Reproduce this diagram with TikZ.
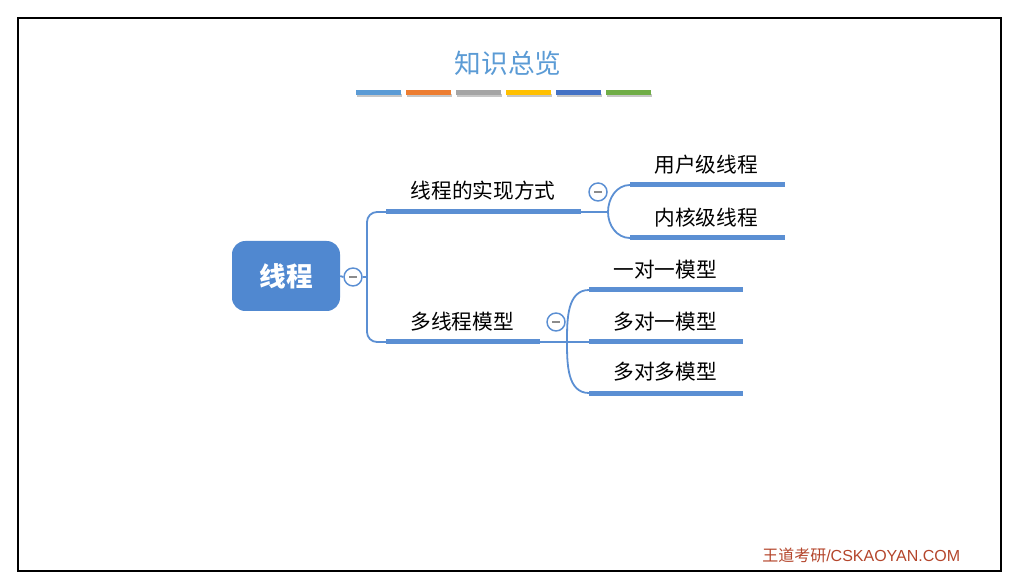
\documentclass[tikz,border=0pt]{standalone}
\usepackage{fontspec}
\setmainfont{Liberation Sans}
\newfontfamily\cjk{Noto Sans CJK SC}
\definecolor{mapblue}{HTML}{5B8FD3}
\definecolor{rootblue}{HTML}{5088D0}
\definecolor{titleblue}{HTML}{5B9BD5}
\definecolor{markred}{HTML}{B4452B}
\definecolor{barA}{HTML}{5B9BD5}
\definecolor{barB}{HTML}{ED7D31}
\definecolor{barC}{HTML}{A5A5A5}
\definecolor{barD}{HTML}{FFC000}
\definecolor{barE}{HTML}{4472C4}
\definecolor{barF}{HTML}{70AD47}
\tikzset{
  conn/.style={line width=1.35pt, mapblue},
  uline/.style={line width=3.75pt, mapblue},
  txt/.style={font=\cjk\fontsize{15.5}{18}\selectfont, inner sep=0pt},
  rootbox/.style={fill=rootblue, rounded corners=10pt, minimum width=81pt,
    minimum height=52.5pt, text=white, font=\cjk\bfseries\fontsize{20}{24}\selectfont},
  fold/.style={circle, draw=mapblue, line width=1.1pt, fill=white,
    minimum size=13.5pt, inner sep=0pt,
    path picture={\draw[black!45, line width=0.9pt]
      ([xshift=-3pt]path picture bounding box.center) --
      ([xshift=3pt]path picture bounding box.center);}}
}
\begin{document}
\begin{tikzpicture}[x=0.75pt,y=-0.75pt]
  \useasboundingbox (0,0) rectangle (1012,580);
  \draw[line width=1.5pt] (18,18) rectangle (1001,571);

  \node[font=\cjk\fontsize{20}{24}\selectfont, text=titleblue] (title) at (508,63) {知识总览};

  % colour bars under the title
  \foreach \c [count=\i from 0] in {barA,barB,barC,barD,barE,barF} {
      \fill[black!22] (357+\i*50,94) rectangle ++(45,3);
      \fill[\c] (356+\i*50,90) rectangle ++(45,5);
    }

  \node[rootbox] (root) at (286,276) {线程};
  \node[fold] (f0) at (353,277) {};
  \draw[conn] (root.east) -- (f0.west);

  \coordinate (trunk) at (367,277);
  \coordinate (u1s) at (386,212);
  \coordinate (u1e) at (581,212);
  \coordinate (u2s) at (386,342);
  \coordinate (u2e) at (540,342);
  \draw[conn] (f0.east) -- (trunk);
  \draw[conn, rounded corners=7.5pt] (u1s) -| (trunk) |- (u2s);
  \draw[uline] (u1s) -- (u1e);
  \draw[uline] (u2s) -- (u2e);

  \node[txt] (b1) at (483,191) {线程的实现方式};
  \node[txt] (b2) at (462,322) {多线程模型};
  \node[fold] (f1) at (598,192) {};
  \node[fold] (f2) at (556,322) {};

  % first branch
  \coordinate (k1) at (608,212);
  \coordinate (u11s) at (630,185);
  \coordinate (u11e) at (785,185);
  \coordinate (u12s) at (630,238);
  \coordinate (u12e) at (785,238);
  \draw[conn] (u1e) -- (k1);
  \draw[conn] (k1) to[out=90, in=180] (u11s);
  \draw[conn] (k1) to[out=-90, in=180] (u12s);
  \draw[uline] (u11s) -- (u11e);
  \draw[uline] (u12s) -- (u12e);
  \node[txt] (c11) at (706,165) {用户级线程};
  \node[txt] (c12) at (706,218) {内核级线程};

  % second branch
  \coordinate (k2) at (567,342);
  \coordinate (u21s) at (589,290);
  \coordinate (u21e) at (743,290);
  \coordinate (u22s) at (589,342);
  \coordinate (u22e) at (743,342);
  \coordinate (u23s) at (589,393);
  \coordinate (u23e) at (743,393);
  \draw[conn] (u2e) -- (u22s);
  \draw[conn] (k2) to[out=90, in=180] (u21s);
  \draw[conn] (k2) to[out=-90, in=180] (u23s);
  \draw[uline] (u21s) -- (u21e);
  \draw[uline] (u22s) -- (u22e);
  \draw[uline] (u23s) -- (u23e);
  \node[txt] (c21) at (665,270) {一对一模型};
  \node[txt] (c22) at (665,322) {多对一模型};
  \node[txt] (c23) at (665,372) {多对多模型};

  \node[font=\fontsize{12}{14}\selectfont, text=markred, anchor=west, inner sep=0pt]
    (mark) at (762,555) {{\cjk 王道考研}/CSKAOYAN.COM};
\end{tikzpicture}
\end{document}
